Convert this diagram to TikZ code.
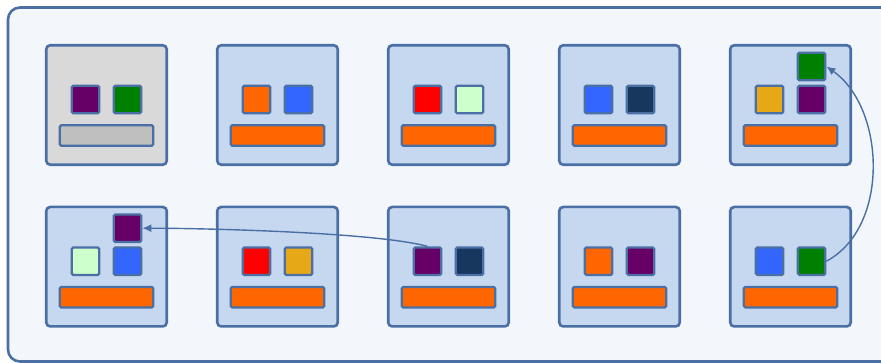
\documentclass[tikz,border=0pt]{standalone}
\usepackage{tikz}
\usetikzlibrary{arrows.meta,positioning}
\definecolor{edge}{RGB}{74,111,165}
\definecolor{panel}{RGB}{243,246,250}
\definecolor{cardblue}{RGB}{198,216,239}
\definecolor{cardgray}{RGB}{217,217,217}
\definecolor{bargray}{RGB}{191,191,191}
\definecolor{orng}{RGB}{255,102,0}
\definecolor{plum}{RGB}{102,0,102}
\definecolor{grn}{RGB}{0,128,0}
\definecolor{blu}{RGB}{51,102,255}
\definecolor{rd}{RGB}{255,0,0}
\definecolor{mint}{RGB}{204,255,204}
\definecolor{navyblk}{RGB}{23,55,94}
\definecolor{gold}{RGB}{230,168,23}
\tikzset{
  card/.style={draw=edge,fill=cardblue,line width=2.6pt,rounded corners=4pt,minimum width=120.5pt,minimum height=119.5pt,inner sep=0pt},
  blk/.style={draw=edge,line width=2.2pt,rounded corners=1.5pt,minimum size=27.5pt,inner sep=0pt},
  bar/.style={draw=edge,fill=orng,line width=2.2pt,rounded corners=1.5pt,minimum width=93.5pt,minimum height=20.5pt,inner sep=0pt},
  link/.style={-{Latex[length=9pt,width=8pt]},draw=edge,line width=1.4pt},
}
\begin{document}
\begin{tikzpicture}[x=1pt,y=1pt,node distance=47.9pt]
  \useasboundingbox (0,0) rectangle (881,-363);
  \clip (0,0) rectangle (881,-363);
  \draw[draw=edge,fill=panel,line width=2.6pt,rounded corners=12pt] (8,-7.5) rectangle (900,-361.5);
  % top row
  \node[card,fill=cardgray] (c1) at (106.5,-105) {};
  \node[card,right=of c1] (c2) {};
  \node[card,right=of c2] (c3) {};
  \node[card,right=of c3] (c4) {};
  \node[card,right=of c4] (c5) {};
  % bottom row
  \node[card,below=39.6pt of c1] (d1) {};
  \node[card,right=of d1] (d2) {};
  \node[card,right=of d2] (d3) {};
  \node[card,right=of d3] (d4) {};
  \node[card,right=of d4] (d5) {};
  \foreach \n/\l/\r/\b in {c1/plum/grn/bargray,c2/orng/blu/orng,c3/rd/mint/orng,c4/blu/navyblk/orng,c5/gold/plum/orng,
      d1/mint/blu/orng,d2/rd/gold/orng,d3/plum/navyblk/orng,d4/orng/plum/orng,d5/blu/grn/orng}{
    \node[blk,fill=\l,xshift=-21pt,yshift=5.5pt] (\n-l) at (\n) {};
    \node[blk,fill=\r,xshift=21pt,yshift=5.5pt] (\n-r) at (\n) {};
    \node[bar,fill=\b,yshift=-30.5pt] (\n-b) at (\n) {};
  }
  \node[blk,fill=grn,xshift=21pt,yshift=38.5pt] (c5-t) at (c5) {};
  \node[blk,fill=plum,xshift=21pt,yshift=38.5pt] (d1-t) at (d1) {};
  \draw[link] (d5-r.east) to[out=28,in=-35,looseness=0.95] (c5-t.east);
  \draw[link] (d3-l.north) to[out=165,in=0,looseness=0.5] (d1-t.east);
\end{tikzpicture}
\end{document}
